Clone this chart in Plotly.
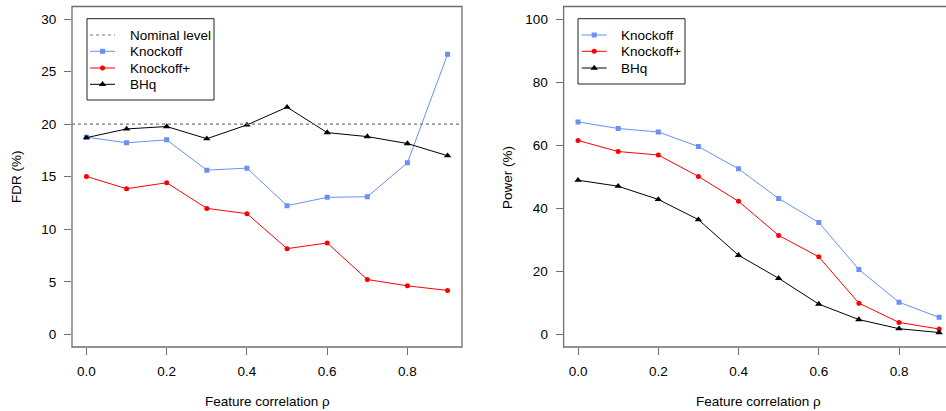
import plotly.graph_objects as go

W, H = 946, 411

rho = [0.0, 0.1, 0.2, 0.3, 0.4, 0.5, 0.6, 0.7, 0.8, 0.9]

fdr_knockoff = [18.77, 18.23, 18.51, 15.63, 15.82, 12.25, 13.04, 13.10, 16.33, 26.65]
fdr_knockoff_plus = [15.03, 13.86, 14.43, 11.99, 11.49, 8.16, 8.70, 5.22, 4.62, 4.18]
fdr_bhq = [18.72, 19.55, 19.78, 18.62, 19.93, 21.62, 19.20, 18.82, 18.16, 17.00]
nominal_level = 20

power_knockoff = [67.4, 65.3, 64.2, 59.6, 52.5, 43.1, 35.5, 20.6, 10.2, 5.4]
power_knockoff_plus = [61.5, 58.0, 56.9, 50.1, 42.2, 31.4, 24.6, 9.9, 3.8, 1.7]
power_bhq = [48.9, 47.0, 42.8, 36.4, 25.1, 17.8, 9.6, 4.7, 1.8, 0.6]

x_ticks = [0.0, 0.2, 0.4, 0.6, 0.8]
x_tick_labels = ["0.0", "0.2", "0.4", "0.6", "0.8"]
fdr_ticks = [0, 5, 10, 15, 20, 25, 30]
power_ticks = [0, 20, 40, 60, 80, 100]

BLUE = "#6a8ff5"
RED = "#ff0000"
BLACK = "#000000"
BOXC = "#6e6e6e"
FONT = "Liberation Sans, Arial, Helvetica, sans-serif"
FS = 13.5


def px(x):
    return x / W


def py(y):
    return 1 - y / H


fig = go.Figure()

styles = [
    ("Knockoff", BLUE, "square", 5),
    ("Knockoff+", RED, "circle", 5),
    ("BHq", BLACK, "triangle-up", 6.5),
]

for (name, col, sym, ms), ys in zip(styles, [fdr_knockoff, fdr_knockoff_plus, fdr_bhq]):
    fig.add_trace(go.Scatter(x=rho, y=ys, mode="lines+markers", name=name,
                             line=dict(color=col, width=1),
                             marker=dict(color=col, symbol=sym, size=ms, line=dict(width=0)),
                             xaxis="x", yaxis="y", showlegend=False))

for (name, col, sym, ms), ys in zip(styles, [power_knockoff, power_knockoff_plus, power_bhq]):
    fig.add_trace(go.Scatter(x=rho, y=ys, mode="lines+markers", name=name,
                             line=dict(color=col, width=1),
                             marker=dict(color=col, symbol=sym, size=ms, line=dict(width=0)),
                             xaxis="x2", yaxis="y2", showlegend=False))


# Legend glyphs drawn on an overlay axis measured in pixels
def legend_glyphs(x0, x1, ys, entries):
    for yv, (col, sym, ms, dash) in zip(ys, entries):
        fig.add_trace(go.Scatter(x=[x0, x1], y=[yv, yv], mode="lines",
                                 line=dict(color=col, width=1, dash=dash),
                                 xaxis="x3", yaxis="y3", showlegend=False, hoverinfo="skip"))
        if sym:
            fig.add_trace(go.Scatter(x=[(x0 + x1) / 2], y=[yv], mode="markers",
                                     marker=dict(color=col, symbol=sym, size=ms, line=dict(width=0)),
                                     xaxis="x3", yaxis="y3", showlegend=False, hoverinfo="skip"))


legend_glyphs(90, 115, [35, 51.3, 68, 84.3],
              [("#777777", None, 0, "3px,3px"), (BLUE, "square", 5, "solid"),
               (RED, "circle", 5, "solid"), (BLACK, "triangle-up", 6.5, "solid")])
legend_glyphs(581.7, 606.7, [35, 51.3, 68],
              [(BLUE, "square", 5, "solid"), (RED, "circle", 5, "solid"),
               (BLACK, "triangle-up", 6.5, "solid")])

axis_common = dict(showgrid=False, zeroline=False, showline=False, ticks="outside",
                   ticklen=7, tickwidth=1, tickcolor=BOXC, automargin=False,
                   tickfont=dict(family=FONT, size=FS, color="#000000"))

fig.update_layout(
    width=W, height=H,
    margin=dict(l=0, r=0, t=0, b=0),
    paper_bgcolor="white", plot_bgcolor="rgba(0,0,0,0)",
    font=dict(family=FONT, size=FS, color="#000000"),
    xaxis=dict(domain=[px(72), px(462)], range=[-0.036, 0.936], tickvals=x_ticks,
               ticktext=x_tick_labels, anchor="y", ticklabelstandoff=5, **axis_common),
    yaxis=dict(domain=[py(347), py(6.5)], range=[-1.2, 31.2], tickvals=fdr_ticks,
               anchor="x", ticklabelstandoff=5, **axis_common),
    xaxis2=dict(domain=[px(563.6), 1], range=[-0.036, 0.9171], tickvals=x_ticks,
                ticktext=x_tick_labels, anchor="y2", ticklabelstandoff=5, **axis_common),
    yaxis2=dict(domain=[py(347), py(6.5)], range=[-4, 104], tickvals=power_ticks,
                anchor="x2", ticklabelstandoff=5, **axis_common),
    xaxis3=dict(domain=[0, 1], range=[0, W], visible=False, anchor="y3"),
    yaxis3=dict(domain=[0, 1], range=[H, 0], visible=False, anchor="x3"),
    hovermode=False,
)

shapes = []
# plot boxes
shapes.append(dict(type="rect", xref="paper", yref="paper", x0=px(72), x1=px(462),
                   y0=py(347), y1=py(6.5), line=dict(color=BOXC, width=1.3)))
shapes.append(dict(type="path", xref="paper", yref="paper",
                   path=f"M {px(960)},{py(6.5)} L {px(563.6)},{py(6.5)} L {px(563.6)},{py(347)} L {px(960)},{py(347)}",
                   line=dict(color=BOXC, width=1.3)))
# nominal level
shapes.append(dict(type="line", xref="x domain", yref="y", x0=0, x1=1,
                   y0=nominal_level, y1=nominal_level,
                   line=dict(color="#777777", width=1.3, dash="3px,3px")))
# legend boxes
shapes.append(dict(type="rect", xref="paper", yref="paper", x0=px(87), x1=px(214),
                   y0=py(100), y1=py(18.7), line=dict(color="#222222", width=1)))
shapes.append(dict(type="rect", xref="paper", yref="paper", x0=px(578), x1=px(685),
                   y0=py(84), y1=py(18.7), line=dict(color="#222222", width=1)))
fig.update_layout(shapes=shapes)

ann = []
for t, yv in zip(["Nominal level", "Knockoff", "Knockoff+", "BHq"], [35, 51.3, 68, 84.3]):
    ann.append(dict(text=t, x=px(127.7), y=py(yv), xref="paper", yref="paper",
                    xanchor="left", yanchor="middle", showarrow=False, font=dict(size=FS)))
for t, yv in zip(["Knockoff", "Knockoff+", "BHq"], [35, 51.3, 68]):
    ann.append(dict(text=t, x=px(619), y=py(yv), xref="paper", yref="paper",
                    xanchor="left", yanchor="middle", showarrow=False, font=dict(size=FS)))
ann.append(dict(text="Feature correlation ρ", x=px(267), y=py(401), xref="paper", yref="paper",
                xanchor="center", yanchor="middle", showarrow=False, font=dict(size=FS)))
ann.append(dict(text="Feature correlation ρ", x=px(758), y=py(401), xref="paper", yref="paper",
                xanchor="center", yanchor="middle", showarrow=False, font=dict(size=FS)))
ann.append(dict(text="FDR (%)", x=px(16), y=py(177), xref="paper", yref="paper", textangle=-90,
                xanchor="center", yanchor="middle", showarrow=False, font=dict(size=FS)))
ann.append(dict(text="Power (%)", x=px(507), y=py(177), xref="paper", yref="paper", textangle=-90,
                xanchor="center", yanchor="middle", showarrow=False, font=dict(size=FS)))
fig.update_layout(annotations=ann)

# remove the default 8px page margin so the figure fills the window exactly
fig.write_html("out.html", config={"displayModeBar": False, "staticPlot": True},
               post_script="document.body.style.margin='0';")
